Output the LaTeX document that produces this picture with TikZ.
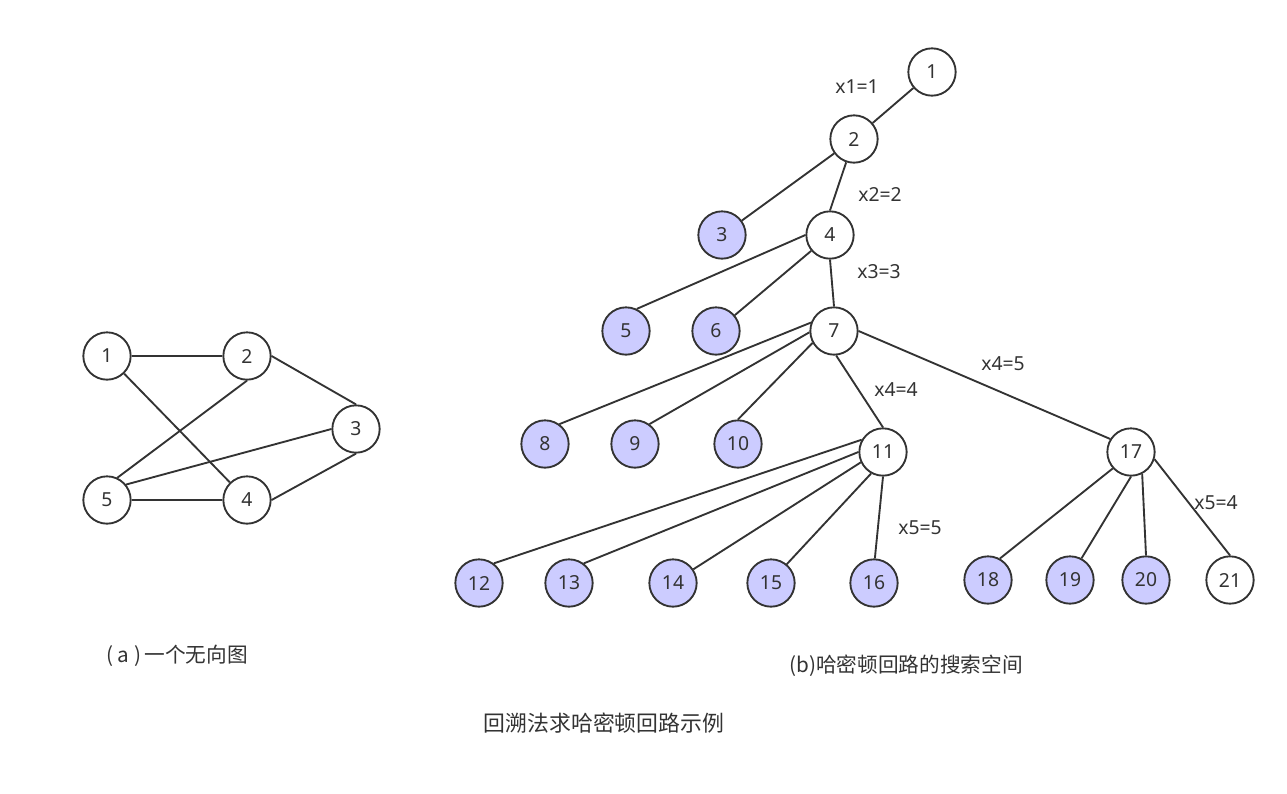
\documentclass[tikz,border=0pt]{standalone}
\usepackage{fontspec}
\setmainfont{Noto Sans}
\newfontfamily\cjk{Noto Sans CJK SC}
\begin{document}
\begin{tikzpicture}[x=0.75pt,y=-0.75pt,
  vtx/.style={circle,draw=linec,line width=1.4pt,minimum size=35.5pt,inner sep=0pt,fill=white,text=textc,font=\fontsize{14.5}{17}\selectfont},
  dead/.style={vtx,fill=deadc},
  lab/.style={text=textc,font=\fontsize{14.5}{17}\selectfont,inner sep=0pt},
  captext/.style={text=textc,font=\cjk\fontsize{15.5}{18}\selectfont,inner sep=0pt},
  edge/.style={draw=linec,line width=1.4pt}]
\definecolor{linec}{HTML}{333333}
\definecolor{textc}{HTML}{333333}
\definecolor{deadc}{HTML}{CCCCFF}
\useasboundingbox (0,0) rectangle (1287,793);
% graph (a)
\node[vtx] (a1) at (107,356) {1};
\node[vtx] (a2) at (247,356) {2};
\node[vtx] (a3) at (356,429) {3};
\node[vtx] (a4) at (247,500) {4};
\node[vtx] (a5) at (107,500) {5};
\path[edge] (a1) -- (a2);
\path[edge] (a1) -- (a4);
\path[edge] (a2.east) -- (a3.north);
\path[edge] (a2.south) -- (a5.65);
\path[edge] (a3.west) -- (a5.39);
\path[edge] (a3.south) -- (a4.east);
\path[edge] (a5) -- (a4);
% tree (b)
\node[vtx] (t1) at (932,72) {1};
\node[vtx] (t2) at (854,139) {2};
\node[dead] (t3) at (722,235) {3};
\node[vtx] (t4) at (830,235) {4};
\node[dead] (t5) at (626,331) {5};
\node[dead] (t6) at (716,331) {6};
\node[vtx] (t7) at (834,331) {7};
\node[dead] (t8) at (545,444) {8};
\node[dead] (t9) at (635,444) {9};
\node[dead] (t10) at (738,444) {10};
\node[vtx] (t11) at (883,452) {11};
\node[vtx] (t17) at (1131,452) {17};
\node[dead] (t12) at (479,583) {12};
\node[dead] (t13) at (569,583) {13};
\node[dead] (t14) at (673,583) {14};
\node[dead] (t15) at (771,583) {15};
\node[dead] (t16) at (874,583) {16};
\node[dead] (t18) at (988,580) {18};
\node[dead] (t19) at (1070,580) {19};
\node[dead] (t20) at (1146,580) {20};
\node[vtx] (t21) at (1230,580) {21};
\path[edge] (t1) -- (t2);
\path[edge] (t2) -- (t3);
\path[edge] (t2) -- (t4.north);
\path[edge] (t4.west) -- (t5.64);
\path[edge] (t4) -- (t6);
\path[edge] (t4.south) -- (t7.north);
\path[edge] (t7.160) -- (t8.54);
\path[edge] (t7.183) -- (t9.54);
\path[edge] (t7.209) -- (t10.north);
\path[edge] (t7.-85) -- (t11.north);
\path[edge] (t7.east) -- (t17.148);
\path[edge] (t11.150) -- (t12.53);
\path[edge] (t11.west) -- (t13.53);
\path[edge] (t11.205) -- (t14.34);
\path[edge] (t11.241) -- (t15.50);
\path[edge] (t11.south) -- (t16.88);
\path[edge] (t17.222) -- (t18.61);
\path[edge] (t17.south) -- (t19.62);
\path[edge] (t17.297) -- (t20.north);
\path[edge] (t17.343) -- (t21.north);
% labels
\node[lab] (l1) at (857,87) {x1=1};
\node[lab] (l2) at (880,194) {x2=2};
\node[lab] (l3) at (879,272) {x3=3};
\node[lab] (l4) at (896,390) {x4=4};
\node[lab] (l5) at (1003,364) {x4=5};
\node[lab] (l6) at (920,528) {x5=5};
\node[lab] (l7) at (1216,503) {x5=4};
% captions
\node[captext] (ca) at (177,656) {( a )\,一个无向图};
\node[captext] (cb) at (906,666) {(b)哈密顿回路的搜索空间};
\node[captext,font=\cjk\fontsize{16.4}{19}\selectfont] (ct) at (604,723) {回溯法求哈密顿回路示例};
\end{tikzpicture}
\end{document}
